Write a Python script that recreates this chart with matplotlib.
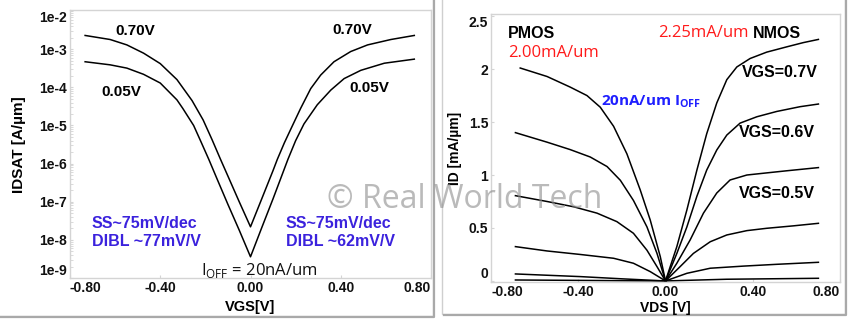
import matplotlib
matplotlib.use("Agg")
import matplotlib.pyplot as plt
from matplotlib.patches import Rectangle
from matplotlib.lines import Line2D

W, H = 850, 323

# left panel: IDSAT [A/um] vs VGS for two VDS values
vgs_070 = [-0.733, -0.622, -0.548, -0.474, -0.400, -0.326, -0.259, -0.210, -0.170, -0.133,
           -0.100, -0.050, 0.000, 0.050, 0.100, 0.119, 0.150, 0.178, 0.222, 0.267,
           0.311, 0.370, 0.444, 0.519, 0.622, 0.726]
idsat_070 = [2.3e-3, 1.8e-3, 1.3e-3, 7.9e-4, 4.2e-4, 1.6e-4, 4.5e-5, 1.4e-5, 4.2e-6, 1.3e-6,
             4.7e-7, 1.0e-7, 2.2e-8, 1.2e-7, 6.6e-7, 1.3e-6, 3.5e-6, 7.9e-6, 2.8e-5, 9.3e-5,
             2.1e-4, 4.7e-4, 8.7e-4, 1.3e-3, 1.8e-3, 2.3e-3]
vgs_005 = [-0.733, -0.622, -0.548, -0.474, -0.400, -0.326, -0.300, -0.252, -0.220, -0.185,
           -0.150, -0.100, -0.050, 0.000, 0.050, 0.100, 0.166, 0.200, 0.237, 0.296,
           0.356, 0.415, 0.489, 0.593, 0.726]
idsat_005 = [4.7e-4, 3.9e-4, 3.2e-4, 2.2e-4, 1.3e-4, 4.7e-5, 2.8e-5, 1.0e-5, 3.8e-6, 1.3e-6,
             4.2e-7, 8.5e-8, 1.8e-8, 3.6e-9, 2.1e-8, 1.2e-7, 1.3e-6, 4.0e-6, 1.1e-5, 3.5e-5,
             8.5e-5, 1.7e-4, 2.8e-4, 4.3e-4, 5.5e-4]
log_ticks = [1e-9, 1e-8, 1e-7, 1e-6, 1e-5, 1e-4, 1e-3, 1e-2]
log_labels = ["1e-9", "1e-8", "1e-7", "1e-6", "1e-5", "1e-4", "1e-3", "1e-2"]
v_ticks = [-0.8, -0.4, 0.0, 0.4, 0.8]
v_labels = ["-0.80", "-0.40", "0.00", "0.40", "0.80"]

# right panel: ID [mA/um] vs VDS, PMOS (left) and NMOS (right)
pmos_vds = [
    [-0.666, -0.543, -0.437, -0.360, -0.299, -0.238, -0.177, -0.116, -0.070, -0.024, 0.0],
    [-0.688, -0.543, -0.437, -0.345, -0.268, -0.207, -0.147, -0.085, -0.039, 0.0],
    [-0.688, -0.543, -0.421, -0.314, -0.223, -0.147, -0.085, -0.039, 0.0],
    [-0.688, -0.543, -0.391, -0.238, -0.147, -0.070, 0.0],
    [-0.688, -0.391, -0.200, 0.0],
    [-0.688, 0.0],
]
pmos_id = [
    [2.01, 1.93, 1.83, 1.75, 1.64, 1.46, 1.20, 0.86, 0.575, 0.23, 0.0],
    [1.40, 1.31, 1.24, 1.17, 1.08, 0.95, 0.76, 0.51, 0.26, 0.0],
    [0.805, 0.75, 0.70, 0.64, 0.56, 0.45, 0.29, 0.135, 0.0],
    [0.324, 0.283, 0.25, 0.214, 0.167, 0.088, 0.0],
    [0.066, 0.041, 0.02, 0.0],
    [0.009, 0.0],
]
nmos_vds = [
    [0.0, 0.052, 0.098, 0.144, 0.189, 0.235, 0.281, 0.327, 0.388, 0.464, 0.556, 0.632, 0.701],
    [0.0, 0.052, 0.098, 0.144, 0.189, 0.235, 0.281, 0.342, 0.419, 0.510, 0.617, 0.701],
    [0.0, 0.052, 0.113, 0.174, 0.235, 0.296, 0.373, 0.464, 0.556, 0.701],
    [0.0, 0.067, 0.128, 0.205, 0.281, 0.373, 0.464, 0.586, 0.701],
    [0.0, 0.098, 0.205, 0.357, 0.510, 0.701],
    [0.0, 0.280, 0.701],
]
nmos_id = [
    [0.0, 0.324, 0.67, 1.047, 1.39, 1.68, 1.90, 2.02, 2.10, 2.16, 2.21, 2.25, 2.28],
    [0.0, 0.26, 0.51, 0.80, 1.047, 1.236, 1.377, 1.49, 1.55, 1.60, 1.645, 1.67],
    [0.0, 0.167, 0.387, 0.64, 0.83, 0.953, 1.0, 1.02, 1.04, 1.07],
    [0.0, 0.135, 0.26, 0.37, 0.434, 0.475, 0.497, 0.52, 0.544],
    [0.0, 0.072, 0.12, 0.14, 0.157, 0.176],
    [0.0, 0.016, 0.025],
]
id_ticks = [0, 0.5, 1, 1.5, 2, 2.5]
id_labels = ["0", "0.5", "1", "1.5", "2", "2.5"]

BOLD = dict(family="Liberation Sans", weight="bold")
SPINE = "#d4d4d4"


def fx(x):
    return x / W


def fy(y):
    return 1 - y / H


def ptext(fig, x, y, s, **kw):
    # place text by pixel position in the figure
    kw.setdefault("ha", "center")
    kw.setdefault("va", "center")
    fig.text(fx(x), fy(y), s, **kw)


def panel(fig, x0, y0, x1, y1):
    fig.add_artist(Rectangle((fx(x0), fy(y1)), fx(x1 - x0), (y1 - y0) / H,
                             transform=fig.transFigure, facecolor="white",
                             edgecolor="#cfcfcf", lw=1, zorder=-2))
    # drop shadow on the right and bottom edges
    fig.add_artist(Line2D([fx(x0 + 2), fx(x1 + 1), fx(x1 + 1)],
                          [fy(y1 + 1), fy(y1 + 1), fy(y0 + 2)],
                          transform=fig.transFigure, color="#a9a9a9", lw=1.6, zorder=-1))


def style_axes(ax):
    ax.set_facecolor("white")
    for sp in ax.spines.values():
        sp.set_color(SPINE)
        sp.set_linewidth(1)
    ax.tick_params(which="both", length=2, color=SPINE, direction="in")
    for lab in ax.get_xticklabels() + ax.get_yticklabels():
        lab.set_fontfamily(BOLD["family"])
        lab.set_fontweight("bold")
        lab.set_fontsize(10)
        lab.set_color("#111111")


fig = plt.figure(figsize=(W / 100, H / 100), dpi=100)
fig.patch.set_facecolor("white")
panel(fig, -3, -3, 433, 316)
panel(fig, 442, -3, 845, 314)

# ---- left: transfer curves ----
ax1 = fig.add_axes([fx(70), fy(278), fx(431 - 70), (278 - 10) / H])
ax1.plot(vgs_070, idsat_070, color="black", lw=1.1)
ax1.plot(vgs_005, idsat_005, color="black", lw=1.1)
ax1.set_yscale("log")
ax1.set_xlim(-0.8, 0.8)
ax1.set_ylim(1e-9, 1.07e-2)
ax1.set_xticks(v_ticks, v_labels)
ax1.set_yticks(log_ticks, log_labels)
ax1.tick_params(axis="x", pad=2.5)
ax1.tick_params(axis="y", pad=2)
style_axes(ax1)
ax1.get_xticklabels()[0].set_ha("left")
ax1.get_xticklabels()[-1].set_ha("right")
ax1.get_yticklabels()[0].set_va("bottom")
ax1.get_yticklabels()[-1].set_va("top")

ptext(fig, 19, 145, "IDSAT [A/µm]", rotation=90, fontsize=11, **BOLD)
ptext(fig, 250, 307, "VGS[V]", fontsize=10.5, **BOLD)
ptext(fig, 135, 31, "0.70V", fontsize=11, **BOLD)
ptext(fig, 352, 30, "0.70V", fontsize=11, **BOLD)
ptext(fig, 121, 92, "0.05V", fontsize=11, **BOLD)
ptext(fig, 369, 88, "0.05V", fontsize=11, **BOLD)
PURPLE = "#3b22dd"
ptext(fig, 92, 223, "SS~75mV/dec", ha="left", fontsize=11.5, color=PURPLE, **BOLD)
ptext(fig, 92, 242, "DIBL ~77mV/V", ha="left", fontsize=11.5, color=PURPLE, **BOLD)
ptext(fig, 286, 223, "SS~75mV/dec", ha="left", fontsize=11.5, color=PURPLE, **BOLD)
ptext(fig, 286, 242, "DIBL ~62mV/V", ha="left", fontsize=11.5, color=PURPLE, **BOLD)
ptext(fig, 259, 271, r"I$_{\mathregular{OFF}}$ = 20nA/um", fontsize=12,
      family="Open Sans", color="#111111")

# ---- right: output curves ----
ax2 = fig.add_axes([fx(491), fy(282), fx(840 - 491), (282 - 14) / H])
for xs, ys in zip(pmos_vds, pmos_id):
    ax2.plot(xs, ys, color="black", lw=1.1)
for xs, ys in zip(nmos_vds, nmos_id):
    ax2.plot(xs, ys, color="black", lw=1.1)
ax2.set_xlim(-0.8, 0.8)
ax2.set_ylim(-0.01, 2.52)
ax2.set_xticks(v_ticks, v_labels)
ax2.set_yticks(id_ticks, id_labels)
ax2.tick_params(axis="x", pad=2)
ax2.tick_params(axis="y", pad=2)
style_axes(ax2)
ax2.get_xticklabels()[0].set_ha("left")
ax2.get_xticklabels()[-1].set_ha("right")
ax2.get_yticklabels()[0].set_va("bottom")
ax2.get_yticklabels()[-1].set_va("top")

ptext(fig, 455, 148, "ID [mA/µm]", rotation=90, fontsize=10, **BOLD)
ptext(fig, 665, 308, "VDS [V]", fontsize=10, **BOLD)
ptext(fig, 508, 34, "PMOS", ha="left", fontsize=11.5, **BOLD)
ptext(fig, 508, 53, "2.00mA/um", ha="left", fontsize=12, family="Open Sans", color="#ff1a1a")
ptext(fig, 658, 33, "2.25mA/um", ha="left", fontsize=12, family="Open Sans", color="#ff1a1a")
ptext(fig, 753, 33, "NMOS", ha="left", fontsize=11.5, **BOLD)
ptext(fig, 780, 73, "VGS=0.7V", fontsize=11.5, **BOLD)
ptext(fig, 777, 132, "VGS=0.6V", fontsize=11.5, **BOLD)
ptext(fig, 777, 193, "VGS=0.5V", fontsize=11.5, **BOLD)
ptext(fig, 601, 102, r"20nA/um I$_{\mathregular{OFF}}$", ha="left", fontsize=11,
      family="Open Sans", weight="bold", color="#1f1fff")

# watermark across both panels
ptext(fig, 465, 199, "© Real World Tech", fontsize=23, family="Open Sans",
      color="#8c8c8c", alpha=0.6, zorder=10)

fig.savefig("out.png", dpi=100, facecolor="white")
